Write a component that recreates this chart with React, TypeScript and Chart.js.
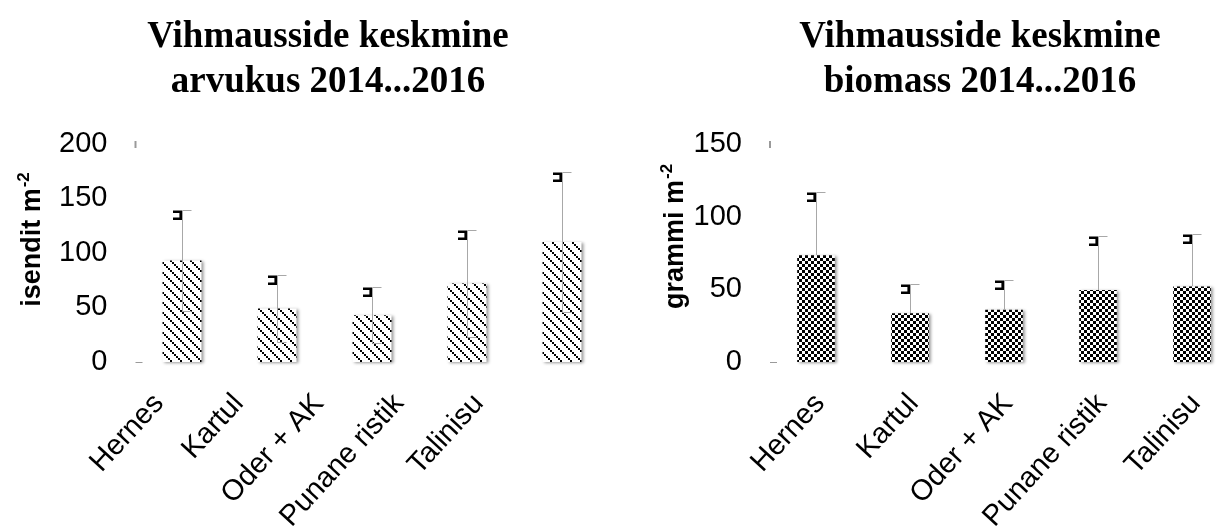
import React, { useEffect, useRef } from 'react';
import { Chart, registerables } from 'chart.js';

Chart.register(...registerables);

// ---- data ----
const categories = ['Hernes', 'Kartul', 'Oder + AK', 'Punane ristik', 'Talinisu'];
const abundanceMean = [93, 49, 43, 72, 110];
const abundanceErr = [46, 31, 26, 49, 64];
const biomassMean = [73.5, 33.5, 36, 49.5, 52];
const biomassErr = [43.5, 20.5, 20.5, 37, 36];
const abundanceTicks = [0, 50, 100, 150, 200];
const biomassTicks = [0, 50, 100, 150];
const abundanceTitle = ['Vihmausside keskmine', 'arvukus 2014...2016'];
const biomassTitle = ['Vihmausside keskmine', 'biomass 2014...2016'];
const abundanceAxisTitle = 'isendit m';
const biomassAxisTitle = 'grammi m';
const axisTitleSup = '-2';

const SANS = '"Liberation Sans", Arial, Helvetica, sans-serif';
const SERIF = '"Liberation Serif", "Times New Roman", serif';

function stripePattern(): CanvasPattern | string {
  const c = document.createElement('canvas');
  c.width = 10;
  c.height = 10;
  const g = c.getContext('2d');
  if (!g) return '#888';
  g.fillStyle = '#fff';
  g.fillRect(0, 0, 10, 10);
  g.fillStyle = '#000';
  for (let k = 0; k < 5; k++) g.fillRect(2 * k, 2 * k, 2, 2);
  return g.createPattern(c, 'repeat') as CanvasPattern;
}

function checkerPattern(): CanvasPattern | string {
  const c = document.createElement('canvas');
  c.width = 6;
  c.height = 6;
  const g = c.getContext('2d');
  if (!g) return '#555';
  g.fillStyle = '#fff';
  g.fillRect(0, 0, 6, 6);
  g.fillStyle = '#000';
  g.fillRect(0, 0, 3, 3);
  g.fillRect(3, 3, 3, 3);
  return g.createPattern(c, 'repeat') as CanvasPattern;
}

const shadowPlugin = {
  id: 'barShadow',
  beforeDatasetsDraw(chart: any) {
    const ctx = chart.ctx;
    ctx.save();
    ctx.shadowColor = 'rgba(0,0,0,0.4)';
    ctx.shadowBlur = 3;
    ctx.shadowOffsetX = 2;
    ctx.shadowOffsetY = 1;
  },
  afterDatasetsDraw(chart: any) {
    chart.ctx.restore();
  },
};

const errorBarPlugin = {
  id: 'errorBars',
  afterDatasetsDraw(chart: any, _args: any, opts: any) {
    const ctx = chart.ctx;
    const yScale = chart.scales.y;
    const meta = chart.getDatasetMeta(0);
    const means: number[] = chart.data.datasets[0].data;
    const errs: number[] = opts.errors || [];
    meta.data.forEach((bar: any, i: number) => {
      const x = Math.round(bar.x) + 0.5;
      const top = Math.round(yScale.getPixelForValue(means[i] + errs[i])) + 0.5;
      const bottom = opts.both
        ? Math.round(yScale.getPixelForValue(means[i] - errs[i])) + 0.5
        : Math.round(bar.y);
      ctx.save();
      ctx.strokeStyle = '#a8a8a8';
      ctx.lineWidth = 1;
      ctx.beginPath();
      ctx.moveTo(x, top);
      ctx.lineTo(x, bottom);
      ctx.moveTo(x, top);
      ctx.lineTo(x + 9, top);
      if (opts.both) {
        ctx.moveTo(x, bottom);
        ctx.lineTo(x + 9, bottom);
      }
      ctx.stroke();
      // small bracket marker next to the cap
      ctx.strokeStyle = '#000';
      ctx.lineWidth = 2.6;
      ctx.beginPath();
      ctx.moveTo(x - 9.5, top + 1.3);
      ctx.lineTo(x - 1.8, top + 1.3);
      ctx.lineTo(x - 1.8, top + 8.2);
      ctx.lineTo(x - 9.5, top + 8.2);
      ctx.stroke();
      ctx.restore();
    });
  },
};

const axisMarksPlugin = {
  id: 'axisMarks',
  afterDraw(chart: any) {
    const ctx = chart.ctx;
    const y = chart.scales.y;
    const left = chart.chartArea.left;
    const y0 = Math.round(y.getPixelForValue(y.min)) + 0.5;
    const yMax = Math.round(y.getPixelForValue(y.max));
    ctx.save();
    ctx.strokeStyle = '#9a9a9a';
    ctx.lineWidth = 1;
    ctx.beginPath();
    ctx.moveTo(left + 1, y0);
    ctx.lineTo(left + 8, y0);
    ctx.stroke();
    ctx.lineWidth = 2;
    ctx.beginPath();
    ctx.moveTo(left + 1, yMax - 3);
    ctx.lineTo(left + 1, yMax + 4);
    ctx.stroke();
    ctx.restore();
  },
};

const xLabelsPlugin = {
  id: 'xLabels',
  afterDraw(chart: any, _args: any, opts: any) {
    const ctx = chart.ctx;
    const xScale = chart.scales.x;
    const labels: string[] = chart.data.labels;
    const size = opts.size;
    const y = chart.chartArea.bottom + opts.padding;
    ctx.save();
    ctx.fillStyle = '#000';
    ctx.font = `${size}px ${SANS}`;
    ctx.textAlign = 'right';
    ctx.textBaseline = 'middle';
    labels.forEach((label, i) => {
      const x = xScale.getPixelForTick(i) + opts.offset(i);
      ctx.save();
      ctx.translate(x, y);
      ctx.rotate((-opts.angle * Math.PI) / 180);
      ctx.fillText(label, 0, (size * 1.2) / 2);
      ctx.restore();
    });
    ctx.restore();
  },
};

const yTitlePlugin = {
  id: 'yTitle',
  afterDraw(chart: any, _args: any, opts: any) {
    const ctx = chart.ctx;
    const area = chart.chartArea;
    const baseX = area.left + opts.baseDx;
    const cy = (area.top + area.bottom) / 2 + opts.dy;
    const size = opts.size;
    const mainFont = `bold ${size}px ${SANS}`;
    const supFont = `bold ${Math.round(size * 0.62)}px ${SANS}`;
    ctx.save();
    ctx.font = mainFont;
    const w1 = ctx.measureText(opts.text).width;
    ctx.font = supFont;
    const w2 = ctx.measureText(opts.sup).width;
    const total = w1 + w2;
    ctx.translate(baseX, cy);
    ctx.rotate(-Math.PI / 2);
    ctx.fillStyle = '#000';
    ctx.textAlign = 'left';
    ctx.textBaseline = 'alphabetic';
    ctx.font = mainFont;
    ctx.fillText(opts.text, -total / 2, 0);
    ctx.font = supFont;
    ctx.fillText(opts.sup, -total / 2 + w1 + 1, -size * 0.42);
    ctx.restore();
  },
};

function makeConfig(p: {
  means: number[];
  errs: number[];
  ticks: number[];
  title: string[];
  axisTitle: string;
  pattern: any;
  yWidth: number;
  rightWidth: number;
  barFrac: number;
  labelOffset: (i: number) => number;
  both: boolean;
  yTitleDx: number;
  yTitleDy: number;
}): any {
  const maxTick = p.ticks[p.ticks.length - 1];
  return {
    type: 'bar',
    data: {
      labels: categories,
      datasets: [
        {
          data: p.means,
          backgroundColor: p.pattern,
          borderWidth: 0,
          categoryPercentage: p.barFrac,
          barPercentage: 1,
          clip: 8,
        },
      ],
    },
    options: {
      responsive: false,
      animation: false,
      events: [],
      layout: { padding: 0 },
      plugins: {
        legend: { display: false },
        tooltip: { enabled: false },
        title: {
          display: true,
          text: p.title,
          color: '#000',
          font: { family: SERIF, size: 37, weight: 'bold', lineHeight: 1.22 },
          padding: { top: 14.5, bottom: 39.2 },
        },
        errorBars: { errors: p.errs, both: p.both },
        xLabels: { size: 29, padding: 25, angle: 47.5, offset: p.labelOffset },
        yTitle: { text: p.axisTitle, sup: axisTitleSup, size: 27, baseDx: p.yTitleDx, dy: p.yTitleDy },
      },
      scales: {
        x: {
          grid: { display: false, drawTicks: false },
          border: { display: false },
          ticks: { display: false },
          afterFit: (s: any) => {
            s.height = 165;
          },
        },
        y: {
          min: 0,
          max: maxTick,
          grid: { display: false, drawTicks: false },
          border: { display: false },
          ticks: {
            color: '#000',
            padding: 27,
            font: { family: SANS, size: 29 },
          },
          afterBuildTicks: (s: any) => {
            s.ticks = p.ticks.map((v) => ({ value: v }));
          },
          afterFit: (s: any) => {
            s.width = p.yWidth;
          },
        },
        spacer: {
          type: 'linear',
          position: 'right',
          display: true,
          grid: { display: false, drawTicks: false },
          border: { display: false },
          ticks: { display: false },
          afterFit: (s: any) => {
            s.width = p.rightWidth;
          },
        },
      },
    },
    plugins: [shadowPlugin, errorBarPlugin, axisMarksPlugin, xLabelsPlugin, yTitlePlugin],
  };
}

export default function App() {
  const leftRef = useRef<HTMLCanvasElement>(null);
  const rightRef = useRef<HTMLCanvasElement>(null);

  useEffect(() => {
    if (!leftRef.current || !rightRef.current) return;
    const left = new Chart(
      leftRef.current,
      makeConfig({
        means: abundanceMean,
        errs: abundanceErr,
        ticks: abundanceTicks,
        title: abundanceTitle,
        axisTitle: abundanceAxisTitle,
        pattern: stripePattern(),
        yWidth: 134.5,
        rightWidth: 46.5,
        barFrac: 0.41,
        labelOffset: (i) => -36 - 15 * i,
        both: true,
        yTitleDx: -94.5,
        yTitleDy: -13,
      })
    );
    const right = new Chart(
      rightRef.current,
      makeConfig({
        means: biomassMean,
        errs: biomassErr,
        ticks: biomassTicks,
        title: biomassTitle,
        axisTitle: biomassAxisTitle,
        pattern: checkerPattern(),
        yWidth: 129,
        rightWidth: 81,
        barFrac: 0.4,
        labelOffset: () => -9,
        both: false,
        yTitleDx: -86,
        yTitleDy: -16,
      })
    );
    return () => {
      left.destroy();
      right.destroy();
    };
  }, []);

  return (
    <div
      style={{
        position: 'fixed',
        left: 0,
        top: 0,
        width: 1216,
        height: 527,
        overflow: 'hidden',
        background: '#fff',
      }}
    >
      <div style={{ position: 'absolute', left: 0, top: 0, width: 656, height: 527 }}>
        <canvas ref={leftRef} width={656} height={527} style={{ display: 'block' }} />
      </div>
      <div style={{ position: 'absolute', left: 640, top: 0, width: 680, height: 527 }}>
        <canvas ref={rightRef} width={680} height={527} style={{ display: 'block' }} />
      </div>
    </div>
  );
}
